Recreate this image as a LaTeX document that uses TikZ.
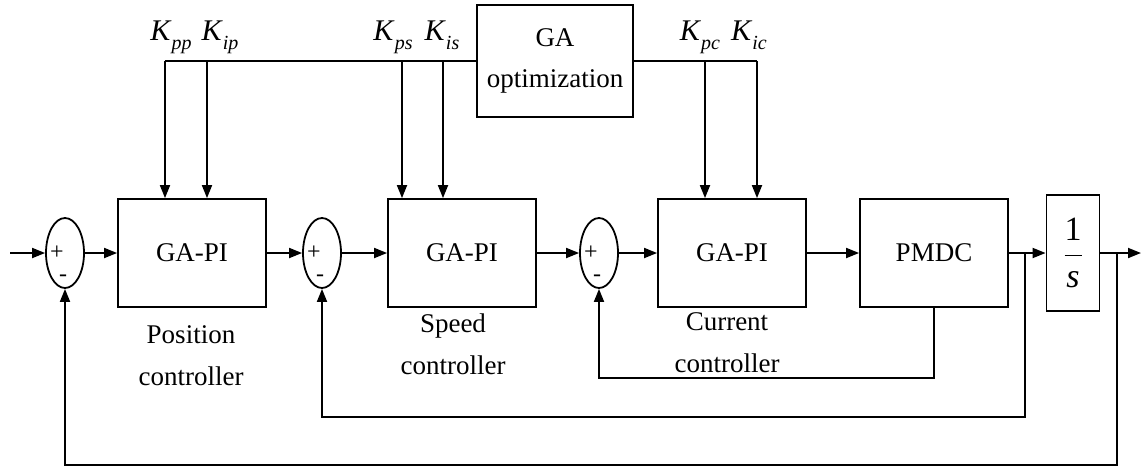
\documentclass[tikz,border=0pt]{standalone}
\usepackage{fontspec}
\setmainfont{Liberation Serif}
\usetikzlibrary{arrows.meta,positioning,shapes.geometric}
\newcommand{\gain}[1]{\textit{K}\raisebox{-4.5pt}{\fontsize{10}{10}\selectfont\textit{#1}}}

\begin{document}
\begin{tikzpicture}[
  x=0.5pt,y=-0.5pt,
  font=\fontsize{13.5}{16}\selectfont,
  line width=0.9pt,
  blk/.style={draw,minimum width=74pt,minimum height=54pt,inner sep=2pt},
  sumj/.style={draw,ellipse,minimum width=19pt,minimum height=35pt,inner sep=0pt},
  flow/.style={-{Triangle[length=6.5pt,width=5pt]}},
  gainlbl/.style={anchor=base,inner sep=0pt,font=\fontsize{15}{15}\selectfont},
  sgn/.style={inner sep=0pt,font=\fontsize{12}{12}\selectfont},
  ctrllbl/.style={align=center,font=\fontsize{13.5}{21}\selectfont},
]
  \useasboundingbox (0,0) rectangle (1142,473);

  % forward path
  \node[sumj] (sum1)  at (65,253)   {};
  \node[blk]  (pos)   at (192,253)  {GA-PI};
  \node[sumj] (sum2)  at (322,253)  {};
  \node[blk]  (spd)   at (462,253)  {GA-PI};
  \node[sumj] (sum3)  at (599,253)  {};
  \node[blk]  (cur)   at (732,253)  {GA-PI};
  \node[blk]  (pmdc)  at (934,253)  {PMDC};
  \node[blk,minimum width=26.5pt,minimum height=58pt,
        font=\fontsize{17}{17}\selectfont] (integ) at (1073,253)
        {$\displaystyle\frac{\textrm{1}}{\textit{s}}$};
  \node[blk,minimum width=78pt,minimum height=56pt,align=center,
        font=\fontsize{13.5}{20.5}\selectfont] (ga) at (555,61) {GA\\optimization};

  \foreach \s in {sum1,sum2,sum3} {
    \node[sgn] at ([shift={(-8,0)}]\s.center) {+};
    \node[sgn] at ([shift={(-2,25)}]\s.center) {-};
  }

  \node[ctrllbl] (poslbl) at (191,356) {Position\\controller};
  \node[ctrllbl] (spdlbl) at (453,344) {Speed\\controller};
  \node[ctrllbl] (curlbl) at (727,343) {Current\\controller};

  % gains from the optimizer
  \coordinate (kpp) at (165,61);
  \coordinate (kip) at (207,61);
  \coordinate (kps) at (402,61);
  \coordinate (kis) at (443,61);
  \coordinate (kpc) at (705,61);
  \coordinate (kic) at (757,61);
  \node[gainlbl] (lkpp) at (171,40) {\gain{pp}};
  \node[gainlbl] (lkip) at (220,40) {\gain{ip}};
  \node[gainlbl] (lkps) at (393,40) {\gain{ps}};
  \node[gainlbl] (lkis) at (442,40) {\gain{is}};
  \node[gainlbl] (lkpc) at (700,40) {\gain{pc}};
  \node[gainlbl] (lkic) at (749,40) {\gain{ic}};

  \draw (kpp) -- (ga.west);
  \draw (ga.east) -- (kic);
  \draw[flow] (kpp) -- (kpp |- pos.north);
  \draw[flow] (kip) -- (kip |- pos.north);
  \draw[flow] (kps) -- (kps |- spd.north);
  \draw[flow] (kis) -- (kis |- spd.north);
  \draw[flow] (kpc) -- (kpc |- cur.north);
  \draw[flow] (kic) -- (kic |- cur.north);

  \coordinate (in)  at (10,253);
  \coordinate (out) at (1141,253);
  \draw[flow] (in) -- (sum1);
  \draw[flow] (sum1) -- (pos);
  \draw[flow] (pos) -- (sum2);
  \draw[flow] (sum2) -- (spd);
  \draw[flow] (spd) -- (sum3);
  \draw[flow] (sum3) -- (cur);
  \draw[flow] (cur) -- (pmdc);
  \draw[flow] (pmdc) -- (integ);
  \draw[flow] (integ) -- (out);

  % feedback loops
  \coordinate (br1)  at (1025,253);
  \coordinate (br2)  at (1117,253);
  \coordinate (low1) at (0,378);
  \coordinate (low2) at (0,417);
  \coordinate (low3) at (0,465);
  \draw[flow] (pmdc.south) -- (pmdc.south |- low1) -| (sum3.south);
  \draw[flow] (br1) -- (br1 |- low2) -| (sum2.south);
  \draw[flow] (br2) -- (br2 |- low3) -| (sum1.south);
\end{tikzpicture}
\end{document}
